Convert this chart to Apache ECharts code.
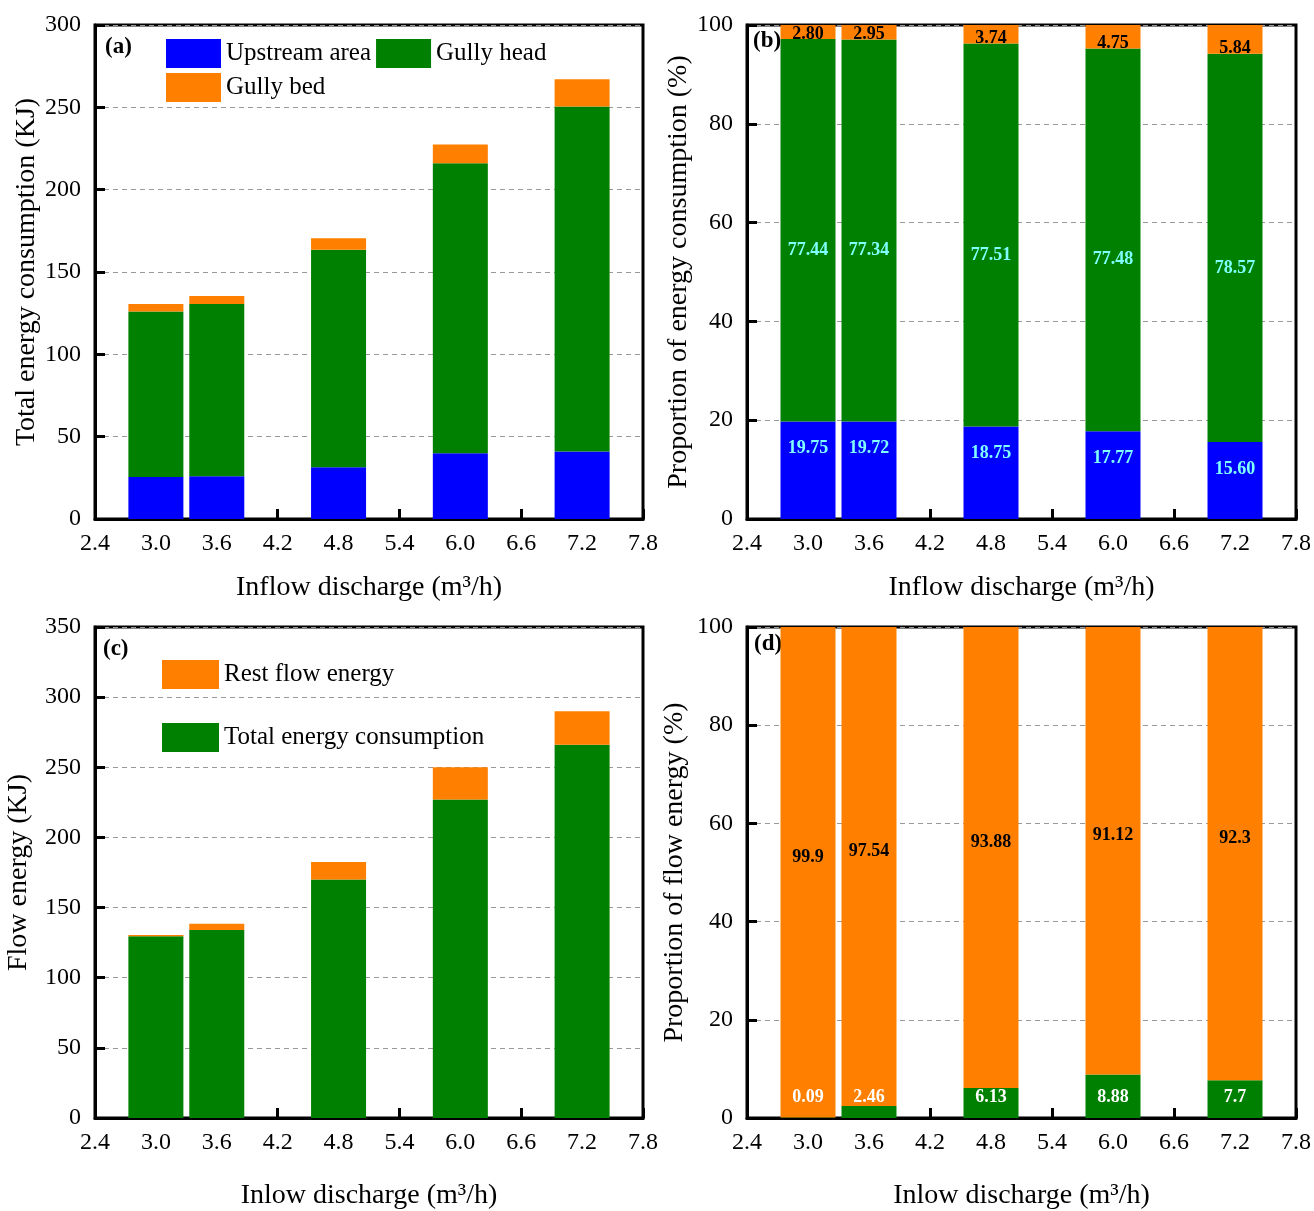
<!DOCTYPE html>
<html>
<head>
<meta charset="utf-8">
<script src="https://cdn.jsdelivr.net/npm/echarts@6/dist/echarts.min.js"></script>
<style>
  html, body { margin: 0; padding: 0; background: #fff; }
  #chart { width: 1314px; height: 1211px; }
</style>
</head>
<body>
<div id="chart"></div>
<script>
// x tick labels (inflow discharge, m3/h) and the discharges that have bars
const xTicks = ['2.4', '3.0', '3.6', '4.2', '4.8', '5.4', '6.0', '6.6', '7.2', '7.8'];
const discharge = [3.0, 3.6, 4.8, 6.0, 7.2];

// (a) energy consumption by area, KJ
const upstreamKJ = [25.5, 26, 31.5, 40, 41];
const gullyHeadKJ = [100.5, 104.5, 132, 176, 209.5];
const gullyBedKJ = [4.5, 5, 7, 11.5, 16.5];

// (b) proportion of energy consumption, %
const upstreamPct = [19.75, 19.72, 18.75, 17.77, 15.60];
const gullyHeadPct = [77.44, 77.34, 77.51, 77.48, 78.57];
const gullyBedPct = [2.80, 2.95, 3.74, 4.75, 5.84];

// (c) flow energy, KJ
const consumedKJ = [129.5, 134, 170, 227, 266];
const restKJ = [1, 4.4, 12.5, 23, 24];

// (d) proportion of flow energy, %
const consumedPct = [0.09, 2.46, 6.13, 8.88, 7.7];
const restPct = [99.9, 97.54, 93.88, 91.12, 92.3];

const FONT = '"Liberation Serif", "Times New Roman", serif';
const BLUE = '#0000ff', GREEN = '#008000', ORANGE = '#ff8000';
const BAR_W = 55;

const chart = echarts.init(document.getElementById('chart'));

// spread the five values over the tick categories, gaps stay empty
const onTicks = vals => xTicks.map(t => {
  const i = discharge.indexOf(parseFloat(t));
  return i < 0 ? null : vals[i];
});

function xAxisFor(gridIndex, name, gap) {
  return {
    type: 'category', gridIndex, data: xTicks, boundaryGap: false,
    name, nameLocation: 'middle', nameGap: gap,
    nameTextStyle: { fontFamily: FONT, fontSize: 28, color: '#000' },
    axisLine: { lineStyle: { color: '#000', width: 3 } },
    axisTick: { inside: true, length: 10, interval: 0, lineStyle: { color: '#000', width: 3 } },
    axisLabel: { fontFamily: FONT, fontSize: 24, color: '#000', margin: 13, interval: 0 },
    splitLine: { show: false }
  };
}

function yAxisFor(gridIndex, max, interval, name, gap) {
  return {
    type: 'value', gridIndex, min: 0, max, interval,
    name, nameLocation: 'middle', nameGap: gap,
    nameTextStyle: { fontFamily: FONT, fontSize: 28, color: '#000' },
    axisLine: { show: true, lineStyle: { color: '#000', width: 3 } },
    axisTick: { show: true, inside: true, length: 10, lineStyle: { color: '#000', width: 3 } },
    axisLabel: { fontFamily: FONT, fontSize: 24, color: '#000', margin: 14 },
    splitLine: { show: true, lineStyle: { color: '#999', type: [5, 4], width: 1 } }
  };
}

function bar(name, idx, vals, color, stack, label) {
  return {
    name, type: 'bar', xAxisIndex: idx, yAxisIndex: idx, stack,
    barWidth: BAR_W, data: onTicks(vals),
    itemStyle: { color },
    label: label || { show: false }
  };
}

function lbl(color, position, extra, fmt) {
  return Object.assign({
    show: true, position, color, fontFamily: FONT, fontWeight: 'bold', fontSize: 18,
    formatter: p => fmt(p.value)
  }, extra);
}
const two = v => Number(v).toFixed(2);
const raw = v => String(v);

const panelTitle = (text, left, top) => ({
  text, left, top, z: 1,
  textStyle: { fontFamily: FONT, fontWeight: 'bold', fontSize: 23, color: '#000' }
});

const gridBox = { show: true, borderColor: '#000', borderWidth: 3, containLabel: false };

chart.setOption({
  animation: false,
  backgroundColor: '#fff',
  title: [
    panelTitle('(a)', 100, 31),
    panelTitle('(b)', 748, 25),
    panelTitle('(c)', 98, 633),
    panelTitle('(d)', 749, 628)
  ],
  legend: [
    {
      left: 161, top: 34, width: 430, orient: 'horizontal',
      itemWidth: 55, itemHeight: 29, itemGap: 5, icon: 'rect',
      data: ['Upstream area', 'Gully head', 'Gully bed'],
      textStyle: { fontFamily: FONT, fontSize: 25, color: '#000' }
    },
    {
      left: 157, top: 655, orient: 'vertical',
      itemWidth: 57, itemHeight: 29, itemGap: 34, icon: 'rect',
      data: ['Rest flow energy', 'Total energy consumption'],
      textStyle: { fontFamily: FONT, fontSize: 25, color: '#000' }
    }
  ],
  grid: [
    Object.assign({ left: 95, top: 25, width: 548, height: 494 }, gridBox),
    Object.assign({ left: 747, top: 25, width: 549, height: 494 }, gridBox),
    Object.assign({ left: 95, top: 627, width: 548, height: 493 }, gridBox),
    Object.assign({ left: 747, top: 627, width: 549, height: 493 }, gridBox)
  ],
  xAxis: [
    xAxisFor(0, 'Inflow discharge (m³/h)', 55),
    xAxisFor(1, 'Inflow discharge (m³/h)', 55),
    xAxisFor(2, 'Inlow discharge (m³/h)', 64),
    xAxisFor(3, 'Inlow discharge (m³/h)', 64)
  ],
  yAxis: [
    yAxisFor(0, 300, 50, 'Total energy consumption (KJ)', 48),
    yAxisFor(1, 100, 20, 'Proportion of energy consumption (%)', 40),
    yAxisFor(2, 350, 50, 'Flow energy (KJ)', 62),
    yAxisFor(3, 100, 20, 'Proportion of flow energy (%)', 58)
  ],
  series: [
    // (a)
    bar('Upstream area', 0, upstreamKJ, BLUE, 'a'),
    bar('Gully head', 0, gullyHeadKJ, GREEN, 'a'),
    bar('Gully bed', 0, gullyBedKJ, ORANGE, 'a'),
    // (b)
    bar('Upstream area', 1, upstreamPct, BLUE, 'b',
      lbl('#80ffff', 'insideTop', { distance: 18 }, two)),
    bar('Gully head', 1, gullyHeadPct, GREEN, 'b',
      lbl('#80ffff', 'inside', { offset: [0, 20] }, two)),
    bar('Gully bed', 1, gullyBedPct, ORANGE, 'b',
      lbl('#000', 'insideBottom', { distance: -4 }, two)),
    // (c)
    bar('Total energy consumption', 2, consumedKJ, GREEN, 'c'),
    bar('Rest flow energy', 2, restKJ, ORANGE, 'c'),
    // (d)
    bar('Total energy consumption', 3, consumedPct, GREEN, 'd',
      lbl('#fff', 'insideBottom', { distance: 12 }, raw)),
    bar('Rest flow energy', 3, restPct, ORANGE, 'd',
      lbl('#000', 'inside', { offset: [0, -15] }, raw))
  ]
});
</script>
</body>
</html>
